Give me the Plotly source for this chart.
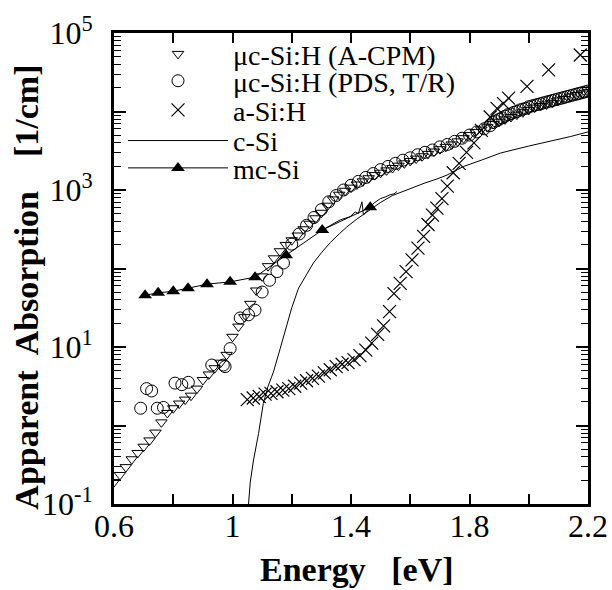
import plotly.graph_objects as go

# ---------------- data (log10 of apparent absorption in 1/cm) ----------------
acpm_energy = [0.60,0.62,0.64,0.66,0.68,0.70,0.72,0.74,0.76,0.78,0.80,0.82,0.84,0.86,0.88,0.90,
               0.92,0.94,0.96,0.98,1.00,1.02,1.04,1.06,1.08,1.10,1.12,1.14,1.16,1.18,1.20,1.22,
               1.24,1.26,1.28,1.30,1.32,1.34,1.36,1.38,1.40,1.42,1.44,1.46,1.48,1.50,1.52,1.54,
               1.56,1.58,1.60,1.62,1.64,1.66,1.68,1.70,1.72,1.74,1.76,1.78,1.80,1.82,1.84,1.86,
               1.88,1.90,1.92,1.94,1.96,1.98,2.00,2.02,2.04,2.06,2.08,2.10,2.12,2.14,2.16,2.18,2.20]
acpm_log10 = [-0.72,-0.63,-0.53,-0.43,-0.35,-0.27,-0.19,-0.09,0.04,0.16,0.22,0.28,0.33,0.38,0.47,0.58,
              0.65,0.73,0.80,0.90,1.13,1.26,1.38,1.55,1.72,1.90,2.03,2.13,2.22,2.30,2.36,2.42,
              2.50,2.57,2.64,2.71,2.80,2.88,2.94,2.99,3.03,3.07,3.11,3.15,3.19,3.22,3.25,3.28,
              3.31,3.34,3.37,3.40,3.43,3.46,3.49,3.52,3.55,3.58,3.62,3.66,3.70,3.74,3.77,3.80,
              3.84,3.87,3.90,3.93,3.96,3.99,4.02,4.05,4.07,4.09,4.11,4.14,4.16,4.19,4.21,4.23,4.25]

pds_energy = [0.690,0.710,0.727,0.746,0.767,0.806,0.829,0.851,0.930,0.969,0.975,0.992,
              1.026,1.054,1.076,1.100,1.125,1.150,1.172,1.200,1.225,1.250,1.275,1.300,1.325,
              1.350,1.375,1.400,1.425,1.450,1.475,1.500,1.525,1.550,1.575,1.600,1.625,1.650,
              1.675,1.700,1.725,1.750,1.775,1.800,1.825,1.850,1.870,
              1.88,1.89,1.90,1.91,1.92,1.93,1.94,1.95,1.96,1.97,1.98,1.99,2.00,2.01,2.02,2.03,
              2.04,2.05,2.06,2.07,2.08,2.09,2.10,2.11,2.12,2.13,2.14,2.15,2.16,2.17,2.18,2.19,2.20]
pds_log10 = [0.22,0.47,0.44,0.22,0.23,0.54,0.52,0.55,0.77,0.77,0.75,0.98,
             1.37,1.41,1.47,1.70,1.85,1.96,2.07,2.31,2.44,2.55,2.65,2.75,2.85,
             2.93,3.00,3.06,3.11,3.16,3.21,3.26,3.30,3.34,3.38,3.41,3.45,3.48,
             3.51,3.55,3.58,3.62,3.66,3.70,3.74,3.78,3.82,
             3.86,3.88,3.90,3.92,3.94,3.96,3.97,3.99,4.00,4.02,4.03,4.04,4.06,4.07,4.08,4.09,
             4.10,4.11,4.12,4.13,4.14,4.15,4.16,4.17,4.18,4.19,4.20,4.21,4.22,4.23,4.24,4.25,4.26]

asi_energy = [1.05,1.07,1.09,1.11,1.13,1.15,1.17,1.19,1.21,1.23,1.25,1.27,1.29,1.31,1.33,1.35,
              1.37,1.39,1.41,1.43,1.45,1.47,1.49,1.51,1.53,1.545,1.566,1.586,1.606,1.626,1.645,
              1.660,1.675,1.690,1.707,1.725,1.745,1.765,1.790,1.815,1.840,1.870,1.893,1.915,
              1.932,1.994,2.067,2.174]
asi_log10 = [0.33,0.35,0.37,0.40,0.41,0.43,0.45,0.47,0.50,0.54,0.57,0.60,0.63,0.67,0.71,0.75,
             0.78,0.80,0.84,0.89,0.96,1.05,1.16,1.27,1.45,1.68,1.81,1.96,2.11,2.26,2.41,
             2.56,2.68,2.77,2.89,3.05,3.22,3.34,3.48,3.60,3.76,3.93,4.04,4.10,
             4.17,4.32,4.53,4.72]

csi_energy = [1.050,1.054,1.060,1.071,1.088,1.104,1.120,1.138,1.161,1.183,1.200,1.223,1.250,
              1.273,1.300,1.330,1.360,1.386,1.420,1.460,1.499,1.540,1.580,1.611,1.650,1.690,
              1.724,1.760,1.780,1.840,1.904,2.000,2.073,2.140,2.200]
csi_log10 = [-1.50,-1.00,-0.72,-0.44,-0.10,0.28,0.50,0.68,0.98,1.26,1.50,1.75,1.93,
             2.07,2.20,2.33,2.44,2.53,2.63,2.74,2.84,2.93,2.99,3.03,3.09,3.14,
             3.19,3.26,3.30,3.38,3.47,3.56,3.62,3.68,3.74]

mc_energy = [0.705,0.749,0.800,0.850,0.914,0.992,1.076,1.181,1.303,1.465]
mc_log10 = [1.66,1.69,1.71,1.75,1.80,1.83,1.89,2.17,2.49,2.78]

mc_tail_energy = [1.303,1.340,1.364,1.397,1.414,1.425,1.437,1.442,1.465,1.480,1.499,1.515,1.532,1.545,1.555]
mc_tail_log10 = [2.49,2.57,2.62,2.66,2.72,2.70,2.85,2.68,2.79,2.84,2.89,2.91,2.94,2.95,2.98]

y_tickvals = [0.1, 1, 10, 100, 1e3, 1e4, 1e5]
y_ticktext = ["10<sup>-1</sup>", "", "10<sup>1</sup>", "", "10<sup>3</sup>", "", "10<sup>5</sup>"]

# ---------------- figure ----------------
def pw(vals):
    return [10 ** v for v in vals]

FONT = "Liberation Serif, Times New Roman, Times, serif"
NB = "\u00a0"
fig = go.Figure()

fig.add_trace(go.Scatter(
    x=acpm_energy, y=pw(acpm_log10), mode="markers", name="μc-Si:H (A-CPM)",
    marker=dict(symbol="triangle-down-open", size=10, color="black", line=dict(width=1)),
    legend="legend"))
fig.add_trace(go.Scatter(
    x=pds_energy, y=pw(pds_log10), mode="markers", name="μc-Si:H (PDS, T/R)",
    marker=dict(symbol="circle-open", size=12, color="black", line=dict(width=1)),
    legend="legend2"))
fig.add_trace(go.Scatter(
    x=asi_energy, y=pw(asi_log10), mode="markers", name="a-Si:H",
    marker=dict(symbol="x-thin-open", size=13, color="black", line=dict(width=1.2, color="black")),
    legend="legend3"))
fig.add_trace(go.Scatter(
    x=csi_energy, y=pw(csi_log10), mode="lines", name="c-Si",
    line=dict(color="black", width=1), legend="legend4"))
fig.add_trace(go.Scatter(
    x=mc_tail_energy, y=pw(mc_tail_log10), mode="lines", showlegend=False,
    line=dict(color="black", width=1)))
fig.add_trace(go.Scatter(
    x=mc_energy, y=pw(mc_log10), mode="lines+markers", name="mc-Si",
    line=dict(color="black", width=1),
    marker=dict(symbol="triangle-up", size=12, color="black"),
    legend="legend5"))

leg_common = dict(font=dict(family=FONT, size=28, color="black"), bgcolor="rgba(0,0,0,0)",
                  borderwidth=0, itemwidth=100, xanchor="left", yanchor="middle",
                  itemclick=False, itemdoubleclick=False)
leg_rows = [0.955, 0.898, 0.836, 0.771, 0.713]
layout_legs = {}
for i, yy in enumerate(leg_rows):
    key = "legend" if i == 0 else f"legend{i+1}"
    layout_legs[key] = dict(x=0.019, y=yy, **leg_common)

fig.update_layout(
    width=612, height=590,
    margin=dict(l=114, r=24, t=33, b=86, autoexpand=False),
    paper_bgcolor="white", plot_bgcolor="white",
    font=dict(family=FONT, color="black"),
    xaxis=dict(range=[0.6, 2.2], tick0=0.6, dtick=0.4, ticks="inside", ticklen=10, tickwidth=1.5,
               tickcolor="black", showline=True, linewidth=3, linecolor="black", mirror="ticks",
               showgrid=False, zeroline=False, automargin=False, ticklabelstandoff=-8,
               tickfont=dict(family=FONT, size=32),
               minor=dict(dtick=0.2, tick0=0.6, ticks="inside", ticklen=10, tickwidth=1.5,
                          tickcolor="black", showgrid=False)),
    yaxis=dict(type="log", range=[-1, 5], tickmode="array", tickvals=y_tickvals, ticktext=y_ticktext,
               ticks="inside", ticklen=12, tickwidth=1.5, tickcolor="black",
               showline=True, linewidth=3, linecolor="black", mirror="ticks",
               showgrid=False, zeroline=False, automargin=False, ticklabelstandoff=12,
               tickfont=dict(family=FONT, size=32),
               minor=dict(dtick="D1", ticks="inside", ticklen=7, tickwidth=1.2,
                          tickcolor="black", showgrid=False)),
    annotations=[
        dict(text="<b>Apparent" + NB + " Absorption" + NB * 3 + " [1/cm]</b>",
             xref="paper", yref="paper", x=-0.184, y=0.461, xanchor="center", yanchor="middle",
             textangle=-90, showarrow=False, font=dict(family=FONT, size=34, color="black")),
        dict(text="<b>Energy" + NB * 2 + " [eV]</b>",
             xref="paper", yref="paper", x=0.5127, y=-0.0955, xanchor="center", yanchor="top",
             showarrow=False, font=dict(family=FONT, size=34, color="black")),
    ],
    **layout_legs,
)

fig.write_html("out.html", post_script="document.body.style.margin='0';",
               config={"displayModeBar": False})
